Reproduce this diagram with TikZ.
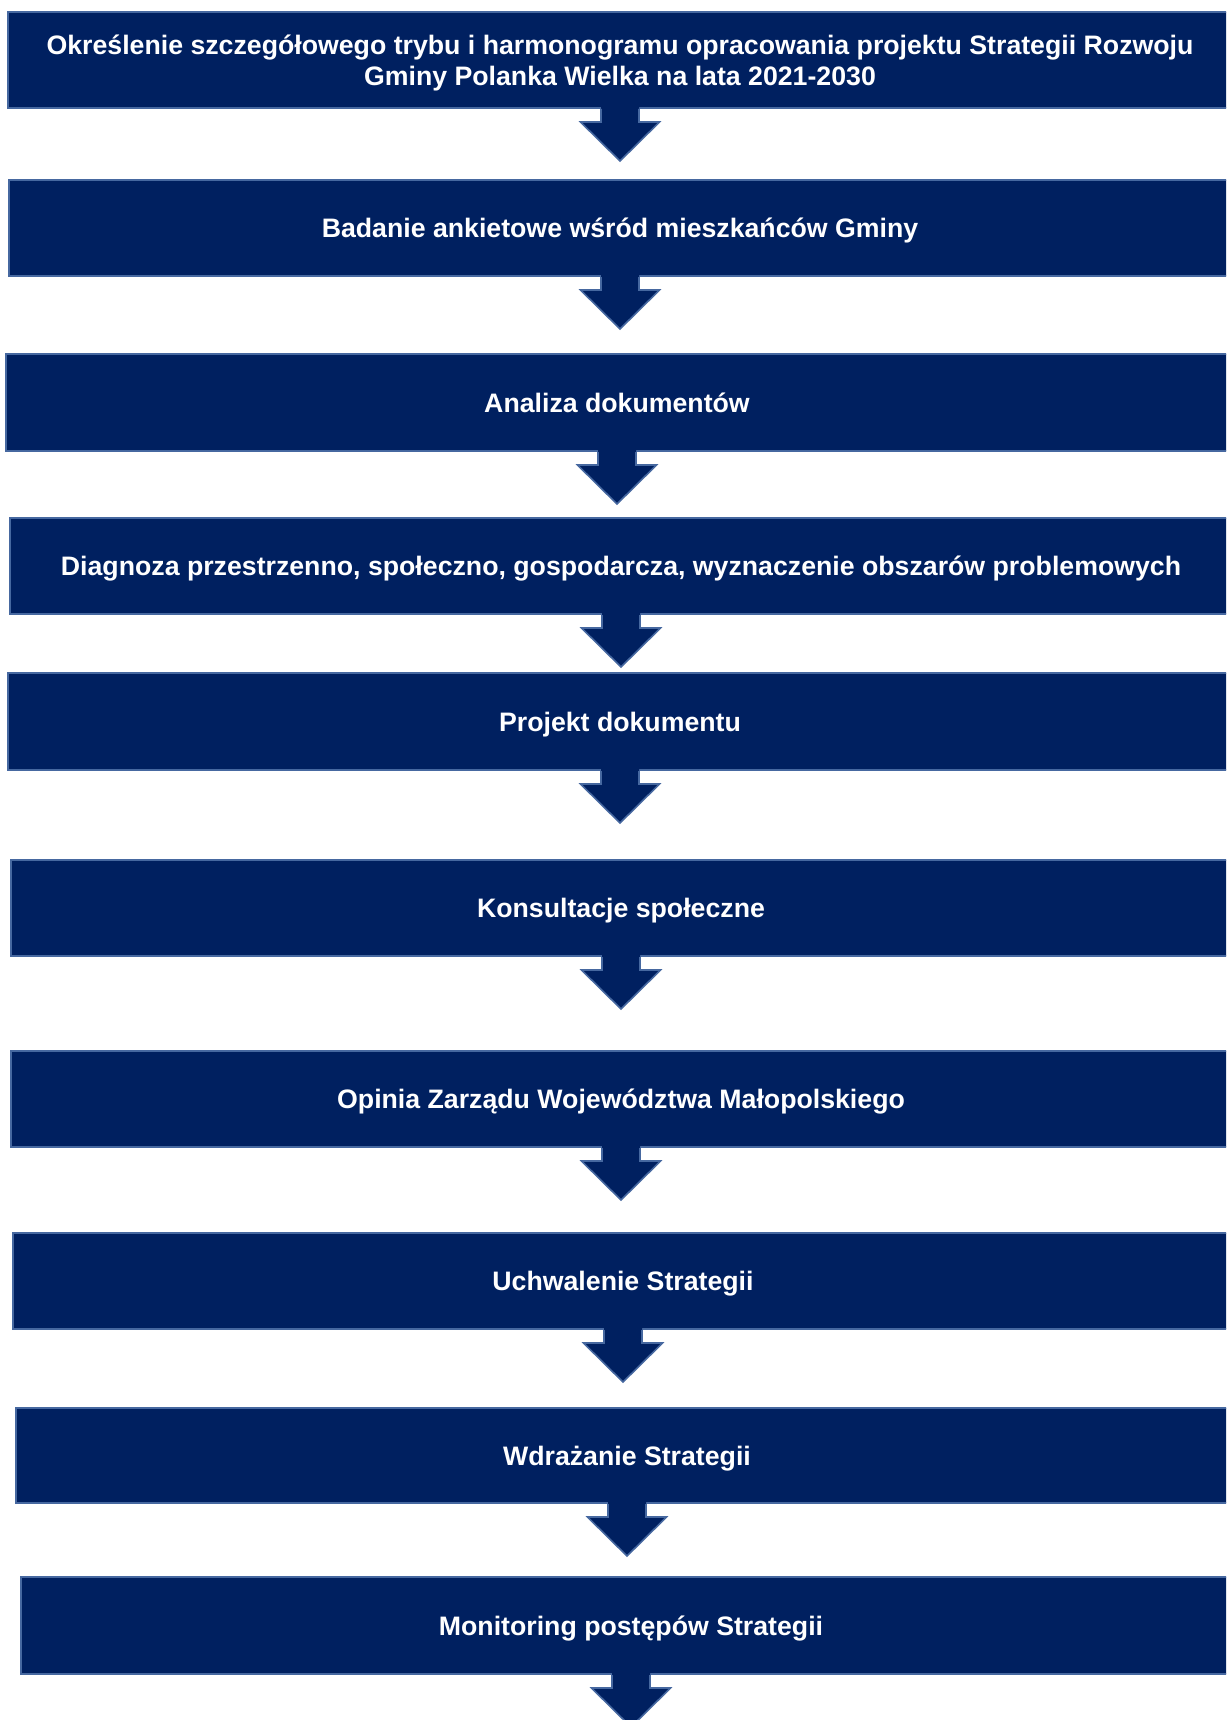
\documentclass[tikz,border=0pt]{standalone}
\usepackage{fontspec}
\setmainfont{Liberation Sans}
\definecolor{navy}{RGB}{0,32,96}
\definecolor{rimblue}{RGB}{70,104,160}
\tikzset{
  stagebase/.style={draw=rimblue, line width=2pt, fill=navy, text=white,
    font=\fontsize{26.7}{31}\selectfont\bfseries, align=center,
    outer sep=0pt, inner sep=0pt},
  stage/.style={stagebase, text height=19.4pt, text depth=0pt},
  arrowfill/.style={fill=navy},
  arrowrim/.style={draw=rimblue, line width=1.6pt}
}
\newcommand\flowarrow[1]{%
  \path[arrowfill, shift={(#1.south)}] (-19,-2) -- (-19,14) -- (-39.5,14) -- (0,53) -- (39.5,14) -- (19,14) -- (19,-2) -- cycle;
  \draw[arrowrim, shift={(#1.south)}] (-19,1) -- (-19,14) -- (-39.5,14) -- (0,53) -- (39.5,14) -- (19,14) -- (19,1);
}
\begin{document}
\begin{tikzpicture}[x=1pt,y=-1pt]
\useasboundingbox (0,0) rectangle (1226,1720);
\clip (0,0) rectangle (1226,1720);
\fill[white] (0,0) rectangle (1226,1720);
\node[stagebase, minimum width=1224, minimum height=96] (b1) at (620,60) {\rule{0pt}{26.4pt}Określenie szczegółowego trybu i harmonogramu opracowania projektu Strategii Rozwoju\\Gminy Polanka Wielka na lata 2021-2030};
\node[stage, minimum width=1222, minimum height=96] (b2) at (620,228) {Badanie ankietowe wśród mieszkańców Gminy};
\node[stage, minimum width=1222, minimum height=97] (b3) at (617,402.5) {Analiza dokumentów};
\node[stage, minimum width=1222, minimum height=96] (b4) at (621,566) {Diagnoza przestrzenno, społeczno, gospodarcza, wyznaczenie obszarów problemowych};
\node[stage, minimum width=1224, minimum height=97] (b5) at (620,721.5) {Projekt dokumentu};
\node[stage, minimum width=1220, minimum height=96] (b6) at (621,908) {Konsultacje społeczne};
\node[stage, minimum width=1220, minimum height=96] (b7) at (621,1099) {Opinia Zarządu Województwa Małopolskiego};
\node[stage, minimum width=1220, minimum height=96] (b8) at (623,1281) {Uchwalenie Strategii};
\node[stage, minimum width=1222, minimum height=95] (b9) at (627,1455.5) {Wdrażanie Strategii};
\node[stage, minimum width=1220, minimum height=97] (b10) at (631,1625.5) {Monitoring postępów Strategii};
\flowarrow{b1}
\flowarrow{b2}
\flowarrow{b3}
\flowarrow{b4}
\flowarrow{b5}
\flowarrow{b6}
\flowarrow{b7}
\flowarrow{b8}
\flowarrow{b9}
\flowarrow{b10}
\end{tikzpicture}
\end{document}
